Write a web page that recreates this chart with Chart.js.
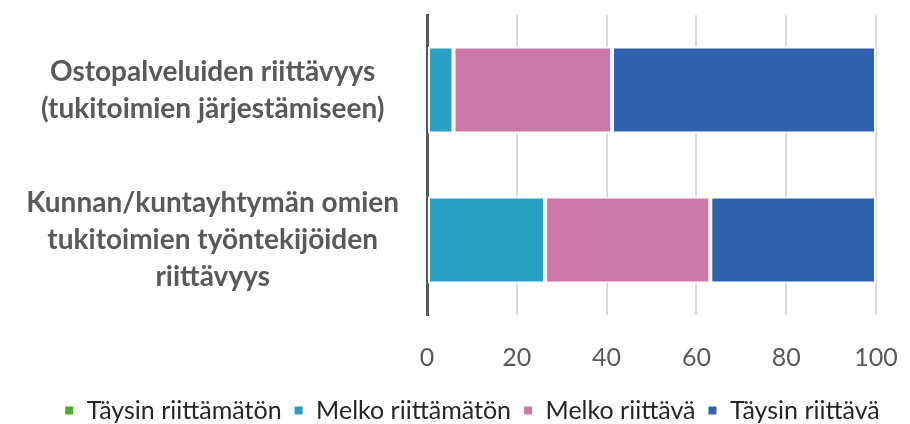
<!DOCTYPE html>
<html>
<head>
<meta charset="utf-8">
<script src="https://cdn.jsdelivr.net/npm/chart.js@4/dist/chart.umd.min.js"></script>
<style>
  html, body { margin: 0; padding: 0; background: #fff; }
  #wrap { width: 910px; height: 424px; }
</style>
</head>
<body>
<div id="wrap"><canvas id="chart"></canvas></div>
<script>
// Categories (multi-line labels)
const categories = [
    ['Ostopalveluiden riittävyys', '(tukitoimien järjestämiseen)'],
    ['Kunnan/kuntayhtymän omien', 'tukitoimien työntekijöiden', 'riittävyys']
];

// Series values (% of answers)
const taysinRiittamaton = [0, 0];
const melkoRiittamaton = [5.9, 26.3];
const melkoRiittava = [35.3, 36.8];
const taysinRiittava = [58.8, 36.9];

const seriesNames = ['Täysin riittämätön', 'Melko riittämätön', 'Melko riittävä', 'Täysin riittävä'];
const seriesColors = ['#4ea72e', '#2a9fc2', '#cb77a8', '#3063ae'];
const xTicks = [0, 20, 40, 60, 80, 100];

const textColor = '#595959';
const fontFamily = 'Lato, "Open Sans", sans-serif';

const allValues = [taysinRiittamaton, melkoRiittamaton, melkoRiittava, taysinRiittava];

// Legend sits a bit right of the plot-area centre in the original
const shiftLegend = {
    id: 'shiftLegend',
    afterLayout(chart) {
        chart.legend.left += 34;
        chart.legend.right += 34;
    }
};

const ctx = document.getElementById('chart').getContext('2d');
new Chart(ctx, {
    type: 'bar',
    data: {
        labels: categories,
        datasets: seriesNames.map((name, i) => ({
            label: name,
            data: allValues[i],
            backgroundColor: seriesColors[i],
            borderColor: '#ffffff',
            borderWidth: 2,
            borderSkipped: false,
            categoryPercentage: 1,
            barPercentage: 0.58
        }))
    },
    options: {
        indexAxis: 'y',
        responsive: true,
        maintainAspectRatio: false,
        animation: false,
        layout: { padding: { top: 15, right: 34, bottom: -9, left: 0 } },
        plugins: {
            legend: {
                position: 'bottom',
                labels: {
                    color: '#262626',
                    font: { family: fontFamily, size: 25 },
                    boxWidth: 10,
                    boxHeight: 10,
                    padding: 12
                }
            },
            tooltip: { enabled: false }
        },
        scales: {
            x: {
                stacked: true,
                min: 0,
                max: 100,
                afterBuildTicks: axis => { axis.ticks = xTicks.map(v => ({ value: v })); },
                afterFit: axis => {
                    axis.paddingLeft = 0;
                    axis.paddingRight = 0;
                    axis.height -= 15;
                },
                grid: {
                    color: '#d9d9d9',
                    lineWidth: 2,
                    drawTicks: false
                },
                border: { display: false },
                ticks: {
                    color: textColor,
                    font: { family: fontFamily, size: 25 },
                    padding: 28
                }
            },
            y: {
                stacked: true,
                afterFit: axis => {
                    axis.width = 427;
                    axis.paddingTop = 0;
                    axis.paddingBottom = 0;
                },
                grid: { display: false, drawTicks: false },
                border: { display: true, color: '#595959', width: 3 },
                ticks: {
                    color: textColor,
                    font: { family: fontFamily, size: 28, weight: 'bold', lineHeight: 1.32 },
                    crossAlign: 'center',
                    padding: 28
                }
            }
        }
    },
    plugins: [shiftLegend]
});
</script>
</body>
</html>
